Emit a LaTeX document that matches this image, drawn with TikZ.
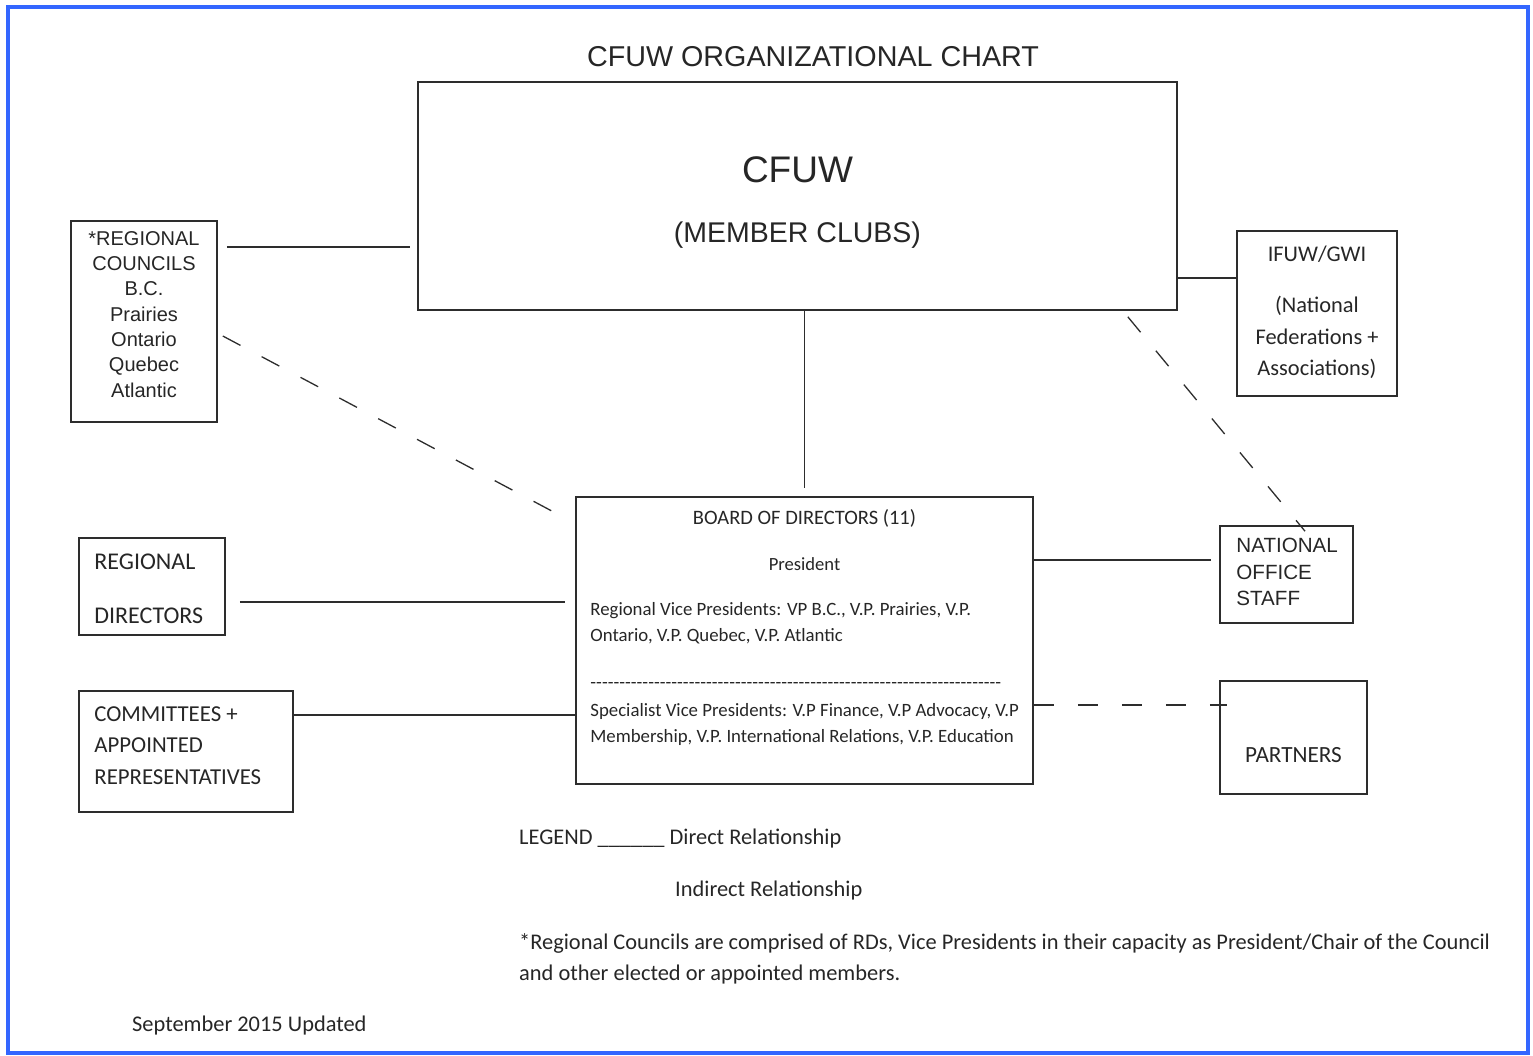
\documentclass[tikz,border=0pt]{standalone}
\usepackage{fontspec}
\setmainfont{Carlito}
\newfontfamily\arialfont{Liberation Sans}
\usetikzlibrary{positioning}
\definecolor{frameblue}{RGB}{51,102,255}
\definecolor{inkgray}{RGB}{45,45,45}
\tikzset{
    orgbox/.style={draw=inkgray, line width=1.6pt, inner sep=0pt},
    arialtext/.style 2 args={inner sep=0pt, text=black!85, font=\arialfont\fontsize{#1}{#2}\selectfont},
    calibritext/.style 2 args={inner sep=0pt, text=black!85, font=\fontsize{#1}{#2}\selectfont},
    direct/.style={draw=inkgray, line width=1.6pt},
    indirect/.style={draw=inkgray, line width=1.3pt, dash pattern=on 20pt off 24pt},
    framelines/.style={draw=frameblue, line width=4pt}
}

\begin{document}
\begin{tikzpicture}[x=1pt, y=-1pt]
\useasboundingbox (0,0) rectangle (1533,1055);
\draw[framelines] (8,7) rectangle (1528,1053);

% boxes
\node[orgbox, minimum width=759pt, minimum height=228pt] (main) at (797.5,196) {};
\node[orgbox, minimum width=146pt, minimum height=201pt] (rc) at (144,321.5) {};
\node[orgbox, minimum width=160pt, minimum height=165pt] (ifuw) at (1317,313.5) {};
\node[orgbox, minimum width=457pt, minimum height=287pt] (board) at (804.5,640.5) {};
\node[orgbox, minimum width=146pt, minimum height=97pt] (rd) at (152,586.5) {};
\node[orgbox, minimum width=214pt, minimum height=121pt] (comm) at (186,751.5) {};
\node[orgbox, minimum width=133pt, minimum height=97pt] (nos) at (1286.5,574.5) {};
\node[orgbox, minimum width=147pt, minimum height=113pt] (partners) at (1293.5,737.5) {};

% box texts
\node[arialtext={28.7}{34}] (title) at (813,57) {CFUW ORGANIZATIONAL CHART};
\node[arialtext={37}{44}, anchor=base] (maintitle) at ([yshift=-101pt]main.north) {CFUW};
\node[arialtext={28.5}{31}, anchor=base] (mainsub) at ([yshift=-161pt]main.north) {(MEMBER CLUBS)};
\node[arialtext={20}{25.3}, align=center, below=11pt of rc.north] (rctext)
    {*REGIONAL\\COUNCILS\\B.C.\\Prairies\\Ontario\\Quebec\\Atlantic};
\node[calibritext={22.4}{31.5}, align=center, below=16pt of ifuw.north] (ifuwtext)
    {IFUW/GWI\\[19.5pt](National\\Federations +\\Associations)};
\node[calibritext={20.5}{26}, below=13pt of board.north] (boardtitle) {BOARD OF DIRECTORS (11)};
\node[calibritext={18.6}{26}, below=61pt of board.north] (president) {President};
\node[calibritext={18.8}{26}, align=left, below right=106pt and 15pt of board.north west] (vps)
    {Regional Vice Presidents: VP B.C., V.P. Prairies, V.P.\\Ontario, V.P. Quebec, V.P. Atlantic\\[21pt]%
     \hbox to 411pt{\xleaders\hbox{-}\hfill}\\[2pt]%
     Specialist Vice Presidents: V.P Finance, V.P Advocacy, V.P\\Membership, V.P. International Relations, V.P. Education};
\node[calibritext={24}{27}, align=left, below right=17pt and 16pt of rd.north west] (rdtext) {REGIONAL\\[27pt]DIRECTORS};
\node[calibritext={22.8}{31.5}, align=left, below right=16pt and 16pt of comm.north west] (commtext)
    {COMMITTEES +\\APPOINTED\\REPRESENTATIVES};
\node[arialtext={20.6}{26.5}, align=left, below right=13pt and 17pt of nos.north west] (nostext) {NATIONAL\\OFFICE\\STAFF};
\node[calibritext={23.2}{27}, below=67pt of partners.north] (partnerstext) {PARTNERS};

% legend and notes
\node[calibritext={22.4}{27}, anchor=base west] (legend) at (519,844) {LEGEND \_\_\_\_\_\_ Direct Relationship};
\node[calibritext={22.4}{27}, anchor=base west] (indirectlabel) at (675,896) {Indirect Relationship};
\node[calibritext={22.4}{31}, align=left, anchor=north west] (footnote) at (519,933)
    {*Regional Councils are comprised of RDs, Vice Presidents in their capacity as President/Chair of the Council\\and other elected or appointed members.};
\node[calibritext={22.4}{27}, anchor=base west] (updated) at (132,1031) {September 2015 Updated};

% direct relationships
\coordinate (rcout) at ([yshift=74.5pt]rc.east);
\draw[direct] ([xshift=9pt]rcout) -- ([xshift=-7pt]rcout -| main.west);
\draw[direct] (board.north |- main.south) -- ([yshift=8pt]board.north);
\coordinate (ifuwin) at ([yshift=35.5pt]ifuw.west);
\draw[direct] (ifuwin -| main.east) -- (ifuwin);
\coordinate (rdout) at ([yshift=-15.5pt]rd.east);
\draw[direct] ([xshift=14pt]rdout) -- ([xshift=-10pt]rdout -| board.west);
\coordinate (commout) at ([yshift=36.5pt]comm.east);
\draw[direct] (commout) -- (commout -| board.west);
\coordinate (nosin) at ([yshift=14.5pt]nos.west);
\draw[direct] (nosin -| board.east) -- ([xshift=-8pt]nosin);

% indirect relationships
\draw[indirect] ([xshift=5pt,yshift=-14.5pt]rc.east) -- ([xshift=-8pt,yshift=-23pt]board.north west);
\draw[indirect] ([xshift=-50pt,yshift=-6pt]main.south east) -- ([xshift=18.5pt,yshift=-6pt]nos.north);
\coordinate (partin) at ([yshift=32.5pt]partners.west);
\draw[indirect] (partin -| board.east) -- ([xshift=8pt]partin);
\end{tikzpicture}
\end{document}
